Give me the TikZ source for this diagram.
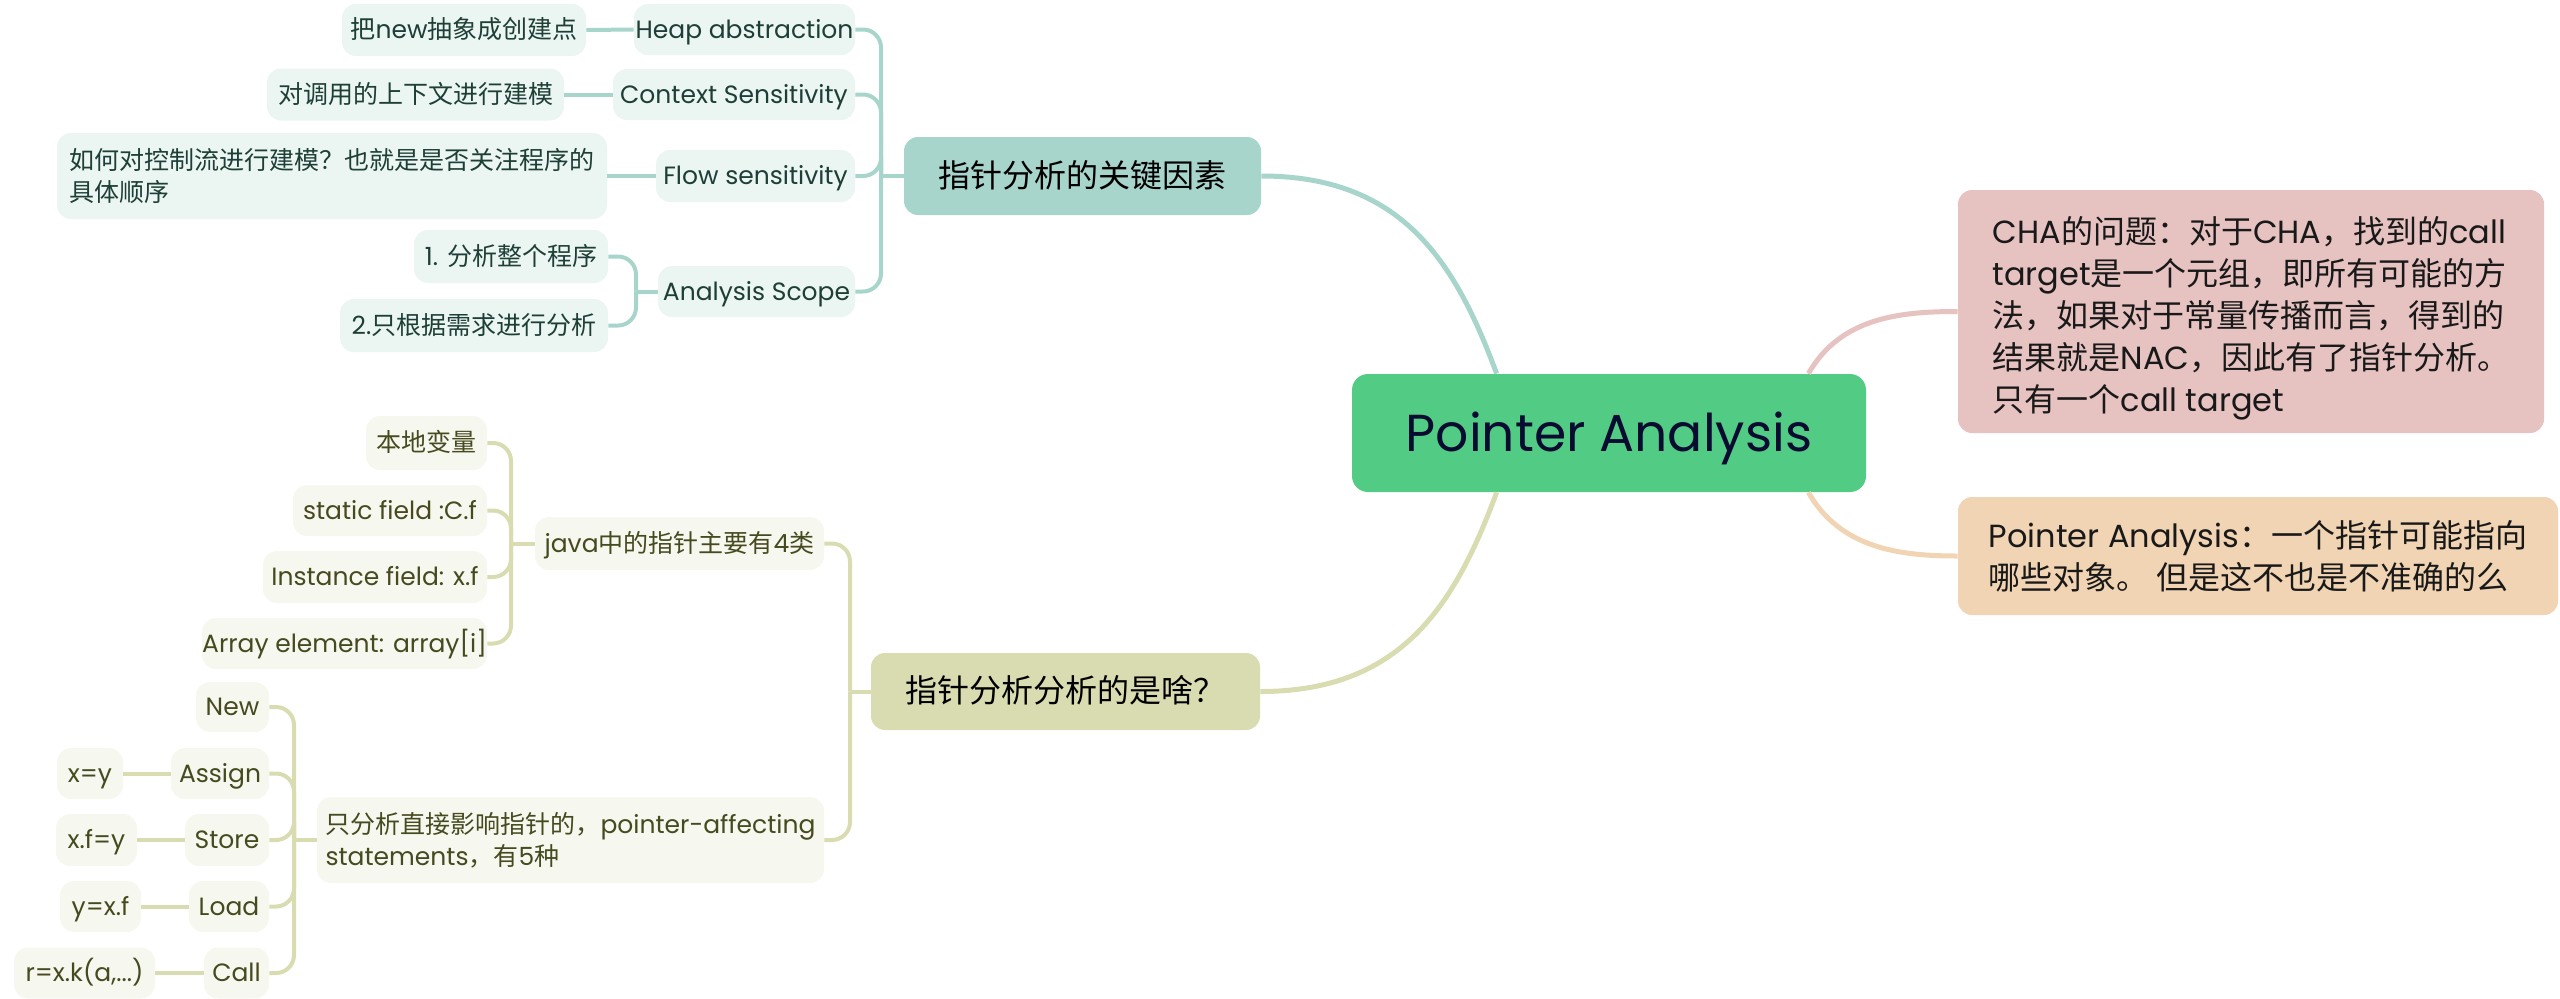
\documentclass[tikz,border=0pt]{standalone}
\usepackage{fontspec}
\setmainfont{Poppins}
\newfontfamily\cjkfont{Noto Sans CJK SC}
\newcommand\zh[1]{{\cjkfont #1}}
\definecolor{tealline}{HTML}{A8D5CB}
\definecolor{tealfill}{HTML}{EBF5F2}
\definecolor{tealtext}{HTML}{1E3F36}
\definecolor{oliveline}{HTML}{D9DCB1}
\definecolor{olivefill}{HTML}{F6F7EE}
\definecolor{olivetext}{HTML}{464A1F}
\definecolor{maingreen}{HTML}{52CB84}
\definecolor{maintext}{HTML}{0A0B30}
\definecolor{chafill}{HTML}{E6C2C1}
\definecolor{pafill}{HTML}{F1D4B3}
\tikzset{
  sz/.style 2 args={minimum width=#1*0.5pt, minimum height=#2*0.5pt},
  mmbox/.style={rounded corners=7pt, inner sep=0pt, align=center},
  tbase/.style={mmbox, fill=tealfill, text=tealtext, font=\fontsize{12.5}{16}\selectfont},
  obase/.style={mmbox, fill=olivefill, text=olivetext, font=\fontsize{12.5}{16}\selectfont},
  tleaf/.style={tbase, text height=8.75pt, text depth=0pt},
  oleaf/.style={obase, text height=8.75pt, text depth=0pt},
  tkey/.style={mmbox, text height=11.2pt, text depth=0pt, fill=tealline, text=black, font=\fontsize{16}{21}\selectfont},
  okey/.style={mmbox, text height=11.2pt, text depth=0pt, fill=oliveline, text=black, font=\fontsize{16}{21}\selectfont},
  mainnode/.style={mmbox, text height=18.2pt, text depth=0pt, rounded corners=8pt, fill=maingreen, text=maintext, font=\fontsize{26}{30}\selectfont},
  chanode/.style={mmbox, fill=chafill, text=black!90, font=\fontsize{16}{21}\selectfont},
  panode/.style={mmbox, fill=pafill, text=black!90, font=\fontsize{16}{21}\selectfont},
  tline/.style={draw=tealline, line width=2pt},
  oline/.style={draw=oliveline, line width=2pt},
  brk/.style={rounded corners=9pt},
  bigline/.style={line width=2.5pt},
}
\begin{document}
\begin{tikzpicture}[x=0.5pt, y=-0.5pt]
\useasboundingbox (0,0) rectangle (2560,998);

% ---------- main and right side ----------
\node[mainnode, sz={514}{118}] (main) at (1609,433) {Pointer Analysis};
\node[chanode, sz={586}{243}, align=left] (cha) at (2251,311.5)
  {\rule{0pt}{20pt}CHA\zh{的问题：对于}CHA\zh{，找到的}call\\target\zh{是一个元组，即所有可能的方}\\\zh{法，如果对于常量传播而言，得到的}\\\zh{结果就是}NAC\zh{，因此有了指针分析。}\\\zh{只有一个}call target};
\node[panode, sz={600}{118}, align=left] (pa) at (2258,556)
  {Pointer Analysis\zh{：一个指针可能指向}\\\zh{哪些对象。 但是这不也是不准确的么}};

% ---------- group 1 ----------
\node[tkey, sz={357}{78}] (k1) at (1082.5,176) {\zh{指针分析的关键因素}};
\node[tleaf, sz={221}{51}] (heap) at (744.5,29.5) {Heap abstraction};
\node[tleaf, sz={244}{52}] (heapd) at (464,30) {\zh{把}new\zh{抽象成创建点}};
\node[tleaf, sz={242}{51}] (ctx) at (734,94.5) {Context Sensitivity};
\node[tleaf, sz={297}{52}] (ctxd) at (415.5,94.5) {\zh{对调用的上下文进行建模}};
\node[tleaf, sz={199}{52}] (flow) at (755.5,176) {Flow sensitivity};
\node[tbase, sz={550}{86}, align=left] (flowd) at (332,176)
  {\zh{如何对控制流进行建模？也就是是否关注程序的}\\\zh{具体顺序}};
\node[tleaf, sz={197}{51}] (scope) at (756.5,291.5) {Analysis Scope};
\node[tleaf, sz={194}{53}] (s1) at (511,256.5) {1. \zh{分析整个程序}};
\node[tleaf, sz={268}{53}] (s2) at (474,325.5) {2.\zh{只根据需求进行分析}};

\coordinate (j1) at (881,176);
\coordinate (js) at (636,291.5);

% ---------- group 2 ----------
\node[okey, sz={389}{77}] (k2) at (1065.5,691.5) {\zh{指针分析分析的是啥？}};
\node[oleaf, sz={289}{53}] (java) at (679.5,543.5) {java\zh{中的指针主要有}4\zh{类}};
\node[obase, sz={507}{86}, align=left] (stmt) at (570.5,840)
  {\zh{只分析直接影响指针的，}pointer-affecting\\statements\zh{，有}5\zh{种}};
\node[oleaf, sz={121}{54}] (local) at (426.5,443) {\zh{本地变量}};
\node[oleaf, sz={194}{51}] (static) at (390,510.5) {static field :C.f};
\node[oleaf, sz={224}{52}] (inst) at (375,577) {Instance field: x.f};
\node[oleaf, sz={285}{51}] (arr) at (344.5,643.5) {Array element: array[i]};
\node[oleaf, sz={73}{50}] (new) at (232.5,707) {New};
\node[oleaf, sz={98}{51}] (assign) at (220,773.5) {Assign};
\node[oleaf, sz={66}{51}] (xy) at (90,773.5) {x=y};
\node[oleaf, sz={84}{52}] (store) at (227,840) {Store};
\node[oleaf, sz={81}{52}] (xfy) at (96.5,840) {x.f=y};
\node[oleaf, sz={80}{51}] (load) at (229,906.5) {Load};
\node[oleaf, sz={81}{51}] (yxf) at (100.5,906.5) {y=x.f};
\node[oleaf, sz={65}{51}] (call) at (236.5,973) {Call};
\node[oleaf, sz={141}{51}] (rxk) at (84.5,973) {r=x.k(a,...)};

\coordinate (j2) at (850,691.5);
\coordinate (jj) at (511,543.5);
\coordinate (jt) at (294,840);

% ---------- main curves ----------
\draw[tline, bigline] (k1.east) .. controls +(139,0) and +(-42,-114) .. ([xshift=72.5pt]main.north west);
\draw[oline, bigline] (k2.east) .. controls +(140,0) and +(-42,114) .. ([xshift=72.5pt]main.south west);
\draw[draw=chafill, bigline] ([xshift=-29pt]main.north east) .. controls +(32,-56) and +(-58,0) .. (cha.west);
\draw[draw=pafill, bigline] ([xshift=-29pt]main.south east) .. controls +(32,56) and +(-58,0) .. (pa.west);

% ---------- group 1 connectors ----------
\foreach \c in {heap,ctx,flow,scope} \draw[tline, brk] (\c.east) -| (j1);
\draw[tline] (j1) -- (k1.west);
\foreach \c in {s1,s2} \draw[tline, brk] (\c.east) -| (js);
\draw[tline] (js) -- (scope.west);
\draw[tline] (heapd.east) -- (heap.west);
\draw[tline] (ctxd.east) -- (ctx.west);
\draw[tline] (flowd.east) -- (flow.west);

% ---------- group 2 connectors ----------
\foreach \c in {java,stmt} \draw[oline, brk] (\c.east) -| (j2);
\draw[oline] (j2) -- (k2.west);
\foreach \c in {local,static,inst,arr} \draw[oline, brk] (\c.east) -| (jj);
\draw[oline] (jj) -- (java.west);
\foreach \c in {new,assign,store,load,call} \draw[oline, brk] (\c.east) -| (jt);
\draw[oline] (jt) -- (stmt.west);
\draw[oline] (xy.east) -- (assign.west);
\draw[oline] (xfy.east) -- (store.west);
\draw[oline] (yxf.east) -- (load.west);
\draw[oline] (rxk.east) -- (call.west);
\end{tikzpicture}
\end{document}
